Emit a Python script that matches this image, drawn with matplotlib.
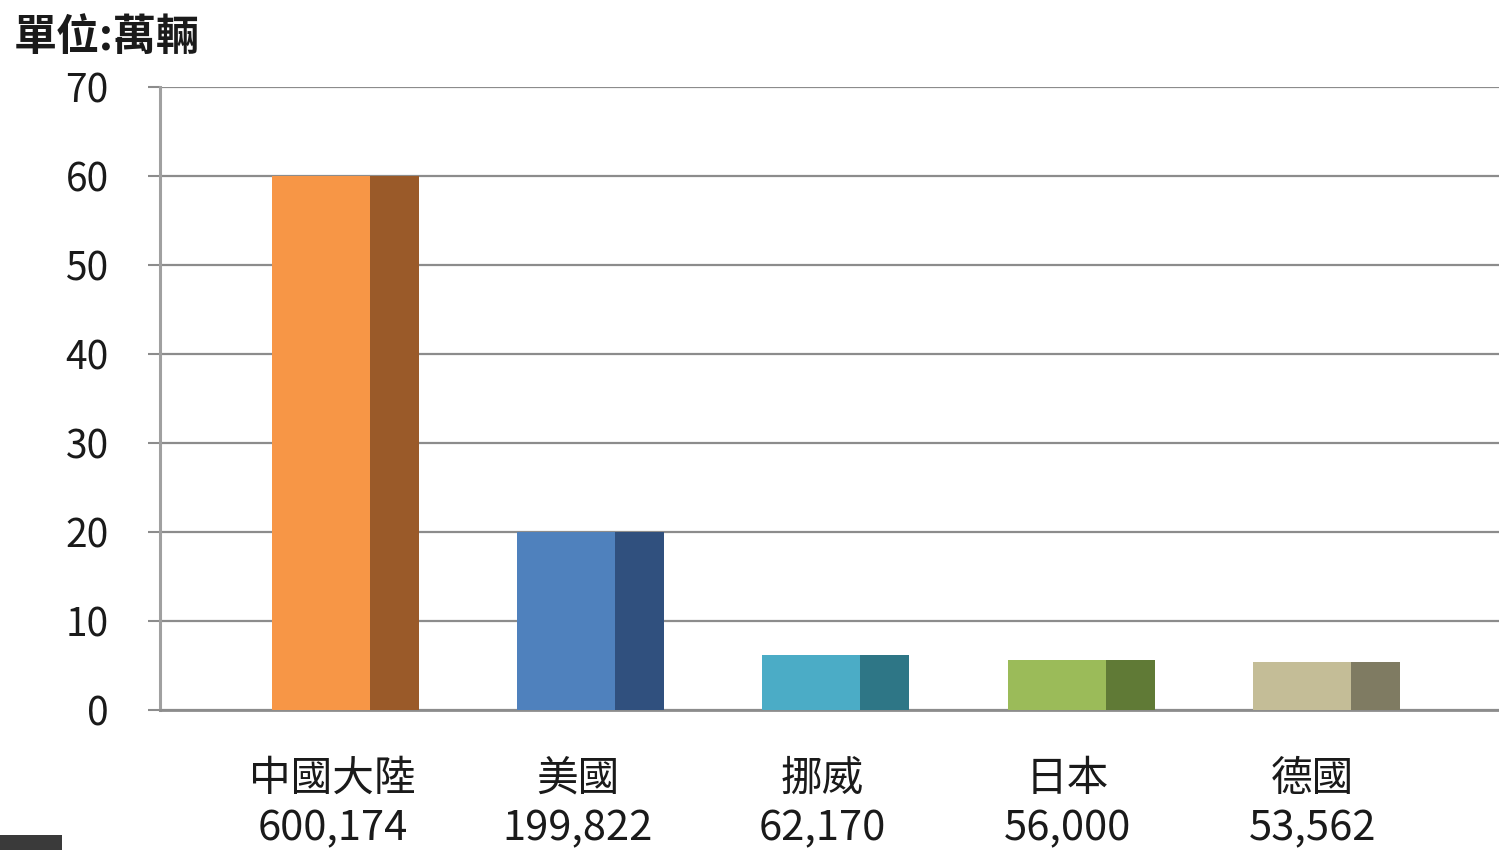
import matplotlib
matplotlib.use("Agg")
import matplotlib.pyplot as plt
from matplotlib.patches import Rectangle

plt.rcParams['font.family'] = ['Noto Sans CJK TC', 'DejaVu Sans']

categories = ['中國大陸', '美國', '挪威', '日本', '德國']
counts = ['600,174', '199,822', '62,170', '56,000', '53,562']
values = [60.0174, 19.9822, 6.2170, 5.6000, 5.3562]  # 萬輛
front_colors = ['#F79646', '#4F81BD', '#4BACC6', '#9BBB59', '#C4BD97']
side_colors = ['#9A5A29', '#30507E', '#2E7686', '#607A36', '#7F7B62']
yticks = [0, 10, 20, 30, 40, 50, 60, 70]

fig = plt.figure(figsize=(14.99, 8.5), dpi=100)
ax = fig.add_axes([160/1499, 140/850, 1339/1499, 623/850])

x = list(range(len(categories)))
ax.bar(x, values, width=0.4, color=front_colors, zorder=3, linewidth=0)
ax.bar([i + 0.3 for i in x], values, width=0.2, color=side_colors, zorder=3, linewidth=0)

ax.set_xlim(-0.659, 4.806)
ax.set_ylim(0, 70)
ax.set_yticks(yticks)
ax.set_yticklabels([str(t) for t in yticks], fontsize=28, color='#1a1a1a')
ax.tick_params(axis='y', length=9, width=1.5, color='#8c8c8c', pad=28)

ax.set_xticks([i + 0.045 for i in x])
ax.set_xticklabels([f'{c}\n{n}' for c, n in zip(categories, counts)],
                   fontsize=30, color='#1a1a1a', linespacing=1.27)
ax.tick_params(axis='x', length=0, pad=35)

ax.grid(axis='y', color='#8c8c8c', linewidth=1.6, zorder=0)
ax.set_axisbelow(True)
for s in ['top', 'right']:
    ax.spines[s].set_visible(False)
ax.spines['left'].set_color('#a0a0a0')
ax.spines['left'].set_linewidth(2.2)
ax.spines['bottom'].set_color('#8c8c8c')
ax.spines['bottom'].set_linewidth(2.0)

fig.text(14/1499, 1 - 37/850, '單位:萬輛', fontsize=31, fontweight='bold',
         color='#1a1a1a', ha='left', va='center')

fig.patches.append(Rectangle((0, 0), 62/1499, 15/850, transform=fig.transFigure,
                             facecolor='#3a3a3a', edgecolor='none', zorder=5))

fig.savefig('out.png', dpi=100, facecolor='white')
